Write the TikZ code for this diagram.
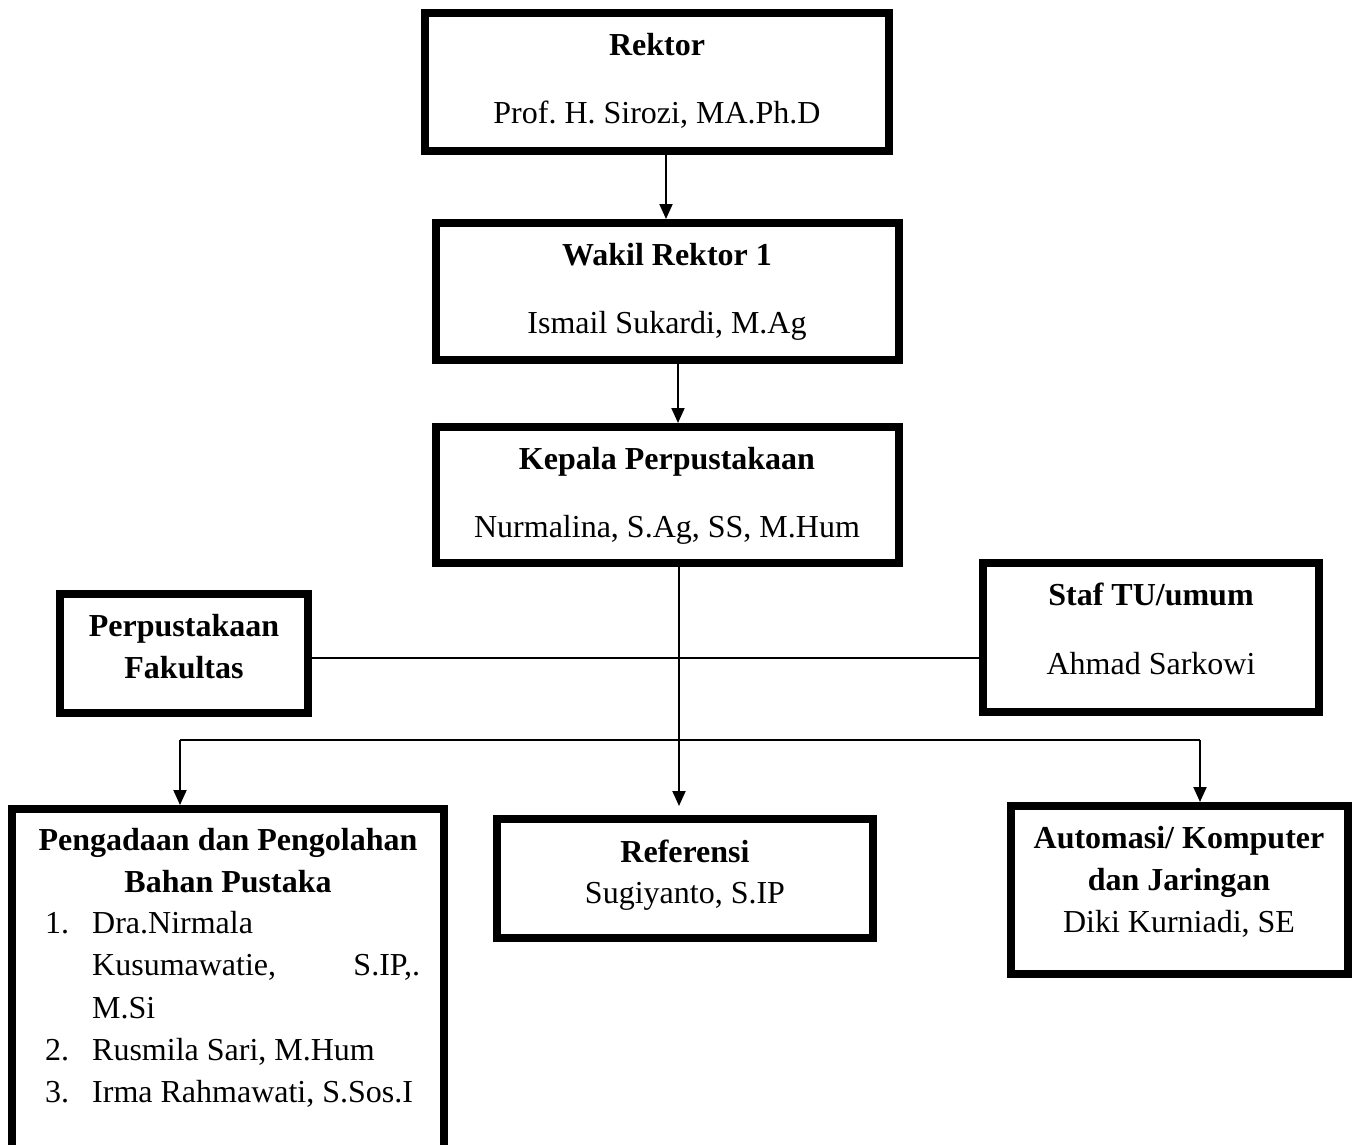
\documentclass[tikz,border=0pt]{standalone}
\usepackage{fontspec}
\setmainfont{Liberation Serif}
\usetikzlibrary{arrows.meta}
\frenchspacing
\begin{document}
\begin{tikzpicture}[x=1pt,y=-1pt,
  every node/.style={font=\fontsize{32}{38}\selectfont},
  box/.style={draw, line width=8pt, inner sep=0pt},
  txt/.style={inner sep=0pt, anchor=base},
  btxt/.style={inner sep=0pt, anchor=base, font=\fontsize{32}{38}\selectfont\bfseries},
  ltxt/.style={inner sep=0pt, anchor=base west},
  conn/.style={line width=2pt},
  arr/.style={line width=2pt, -{Triangle[length=15pt,width=13pt]}}
]
\useasboundingbox (0,0) rectangle (1354,1145);
\clip (0,0) rectangle (1354,1145);
\fill[white] (0,0) rectangle (1354,1145);

% boxes
\node[box, minimum width=464pt, minimum height=138pt] (rek) at (657,82) {};
\node[box, minimum width=463pt, minimum height=137pt] (wak) at (667.5,291.5) {};
\node[box, minimum width=463pt, minimum height=136pt] (kep) at (667.5,495) {};
\node[box, minimum width=248pt, minimum height=119pt] (fak) at (184,653.5) {};
\node[box, minimum width=336pt, minimum height=149pt] (staf) at (1151,637.5) {};
\node[box, minimum width=431.5pt, minimum height=391pt] (pen) at (227.75,1004.5) {};
\node[box, minimum width=376pt, minimum height=119pt] (ref) at (685,878.5) {};
\node[box, minimum width=337pt, minimum height=168pt] (aut) at (1179.5,890) {};

% texts
\node[btxt] (t1) at (657,56) {Rektor};
\node[txt] (t2) at (657,124) {Prof. H. Sirozi, MA.Ph.D};
\node[btxt] (t3) at (667,265) {Wakil Rektor 1};
\node[txt] (t4) at (667,333) {Ismail Sukardi, M.Ag};
\node[btxt] (t5) at (667,469) {Kepala Perpustakaan};
\node[txt] (t6) at (667,537) {Nurmalina, S.Ag, SS, M.Hum};
\node[btxt] (t7) at (184,636) {Perpustakaan};
\node[btxt] (t8) at (184,678) {Fakultas};
\node[btxt] (t9) at (1151,605) {Staf TU/umum};
\node[txt] (t10) at (1151,674) {Ahmad Sarkowi};
\node[btxt] (t11) at (228,850) {Pengadaan dan Pengolahan};
\node[btxt] (t12) at (228,892) {Bahan Pustaka};
\node[ltxt] (n1) at (45,933) {1.};
\node[ltxt] (l1) at (92,933) {Dra.Nirmala};
\node[ltxt] (l2) at (92,975) {\makebox[328pt][s]{Kusumawatie, S.IP,.}};
\node[ltxt] (l3) at (92,1018) {M.Si};
\node[ltxt] (n2) at (45,1060) {2.};
\node[ltxt] (l4) at (92,1060) {Rusmila Sari, M.Hum};
\node[ltxt] (n3) at (45,1102) {3.};
\node[ltxt] (l5) at (92,1102) {Irma Rahmawati, S.Sos.I};
\node[btxt] (t13) at (685,862) {Referensi};
\node[txt] (t14) at (685,903) {Sugiyanto, S.IP};
\node[btxt] (t15) at (1179,848) {Automasi/ Komputer};
\node[btxt] (t16) at (1179,890) {dan Jaringan};
\node[txt] (t17) at (1179,932) {Diki Kurniadi, SE};

% connector coordinates
\coordinate (x1) at (666,0);
\coordinate (x2) at (678,0);
\coordinate (x3) at (679,0);
\coordinate (h1) at (0,658);
\coordinate (jL) at (180,740);
\coordinate (jR) at (1200,740);

% connectors
\draw[arr] (rek.south -| x1) -- (wak.north -| x1);
\draw[arr] (wak.south -| x2) -- (kep.north -| x2);
\draw[conn] (fak.east |- h1) -- (staf.west |- h1);
\draw[arr, shorten >=9pt] (kep.south -| x3) -- (ref.north -| x3);
\draw[conn] (jL) -- (jR);
\draw[arr] (jL) -- (pen.north -| jL);
\draw[arr] (jR) -- (aut.north -| jR);
\end{tikzpicture}
\end{document}
